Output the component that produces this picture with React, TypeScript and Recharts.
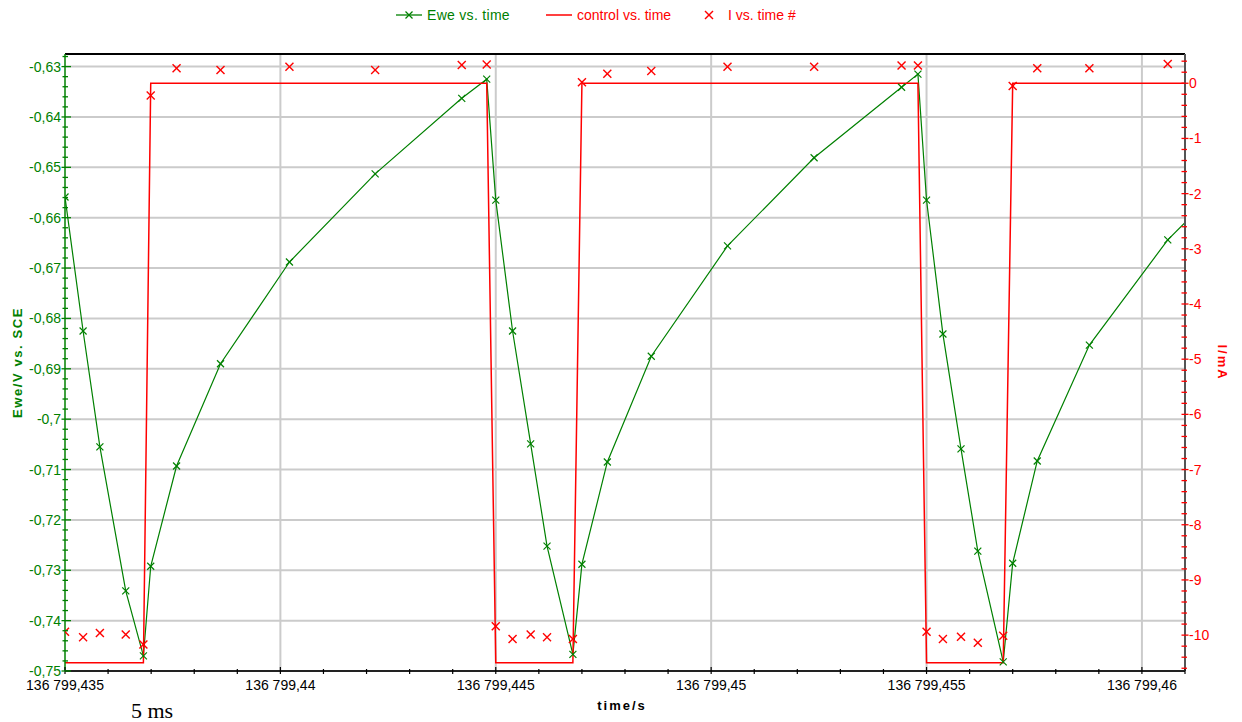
import React from 'react';
import { ComposedChart, Line, XAxis, YAxis, ReferenceLine } from 'recharts';

// time offset in ms from 136 799,435 s
const TIME_MS = [
  0, 0.42, 0.81, 1.41, 1.82, 1.99, 2.59, 3.61, 5.21, 7.2, 9.21, 9.79,
  10.0, 10.39, 10.81, 11.19, 11.79, 12.0, 12.59, 13.61, 15.38, 17.39, 19.42, 19.8,
  20.0, 20.38, 20.8, 21.19, 21.78, 22.0, 22.57, 23.78, 25.6, 27.4,
];
const EWE_V = [
  -0.6559, -0.6825, -0.7055, -0.7341, -0.747, -0.7292, -0.7093, -0.689, -0.6688, -0.6513, -0.6363, -0.6325,
  -0.6565, -0.6825, -0.7049, -0.7252, -0.7467, -0.7288, -0.7085, -0.6875, -0.6656, -0.6481, -0.6341, -0.6315,
  -0.6565, -0.6831, -0.7059, -0.7262, -0.7482, -0.7286, -0.7083, -0.6853, -0.6644, -0.649,
];
const CONTROL_MA = [
  -10.5, -10.5, -10.5, -10.5, -10.5, 0, 0, 0, 0, 0, 0, 0,
  -10.5, -10.5, -10.5, -10.5, -10.5, 0, 0, 0, 0, 0, 0, 0,
  -10.5, -10.5, -10.5, -10.5, -10.5, 0, 0, 0, 0, 0,
];
const I_MA: (number | null)[] = [
  -9.94, -10.04, -9.96, -9.99, -10.17, -0.22, 0.27, 0.24, 0.3, 0.24, 0.33, 0.34,
  -9.84, -10.07, -9.99, -10.04, -10.07, 0.02, 0.17, 0.22, 0.3, 0.3, 0.32, 0.32,
  -9.94, -10.07, -10.03, -10.14, -10.01, -0.05, 0.27, 0.27, 0.35, null,
];

const X_DOMAIN: [number, number] = [0, 26];
const X_MAJOR_TICKS = [0, 5, 10, 15, 20, 25];
const X_TICK_LABELS = ['136 799,435', '136 799,44', '136 799,445', '136 799,45', '136 799,455', '136 799,46'];

const LEFT_DOMAIN: [number, number] = [-0.75, -0.6275];
const LEFT_MAJOR_TICKS = [-0.75, -0.74, -0.73, -0.72, -0.71, -0.7, -0.69, -0.68, -0.67, -0.66, -0.65, -0.64, -0.63];
const LEFT_TICK_LABELS = ['-0,75', '-0,74', '-0,73', '-0,72', '-0,71', '-0,7', '-0,69', '-0,68', '-0,67', '-0,66', '-0,65', '-0,64', '-0,63'];

const RIGHT_DOMAIN: [number, number] = [-10.65, 0.53];
const RIGHT_MAJOR_TICKS = [-10, -9, -8, -7, -6, -5, -4, -3, -2, -1, 0];
const RIGHT_TICK_LABELS = ['-10', '-9', '-8', '-7', '-6', '-5', '-4', '-3', '-2', '-1', '0'];

const X_ALL_TICKS = Array.from({ length: 27 }, (_, i) => i);
const LEFT_ALL_TICKS = Array.from({ length: 62 }, (_, i) => Math.round((-0.75 + i * 0.002) * 10000) / 10000);
const RIGHT_ALL_TICKS = Array.from({ length: 56 }, (_, i) => Math.round((-10.6 + i * 0.2) * 10) / 10);

const GREEN = '#008000';
const RED = '#ff0000';
const GRID = '#cbcbcb';
const FONT = '"Liberation Sans", Arial, sans-serif';

const rows = TIME_MS.map((t, i) => ({ t, ewe: EWE_V[i], control: CONTROL_MA[i], cur: I_MA[i] }));

const findIdx = (arr: number[], v: number) => arr.findIndex((a) => Math.abs(a - v) < 1e-6);

const LeftTick = (props: any) => {
  const { x, y, payload } = props;
  const idx = findIdx(LEFT_MAJOR_TICKS, payload.value);
  const major = idx >= 0;
  return (
    <g>
      <line x1={x - (major ? 3.5 : 2.5)} x2={x + (major ? 6 : 3)} y1={y} y2={y} stroke={GREEN} strokeWidth={1.3} />
      {major && (
        <text x={x - 4} y={y + 5} textAnchor="end" fill={GREEN} fontSize={14} fontFamily={FONT}>
          {LEFT_TICK_LABELS[idx]}
        </text>
      )}
    </g>
  );
};

const RightTick = (props: any) => {
  const { x, y, payload } = props;
  const idx = findIdx(RIGHT_MAJOR_TICKS, payload.value);
  const major = idx >= 0;
  return (
    <g>
      <line x1={x - 3.5} x2={x + (major ? 3.5 : 2)} y1={y} y2={y} stroke={RED} strokeWidth={1.3} />
      {major && (
        <text x={x + 4} y={y + 5} textAnchor="start" fill={RED} fontSize={14} fontFamily={FONT}>
          {RIGHT_TICK_LABELS[idx]}
        </text>
      )}
    </g>
  );
};

const BottomTick = (props: any) => {
  const { x, y, payload } = props;
  const idx = findIdx(X_MAJOR_TICKS, payload.value);
  const major = idx >= 0;
  return (
    <g>
      <line x1={x} x2={x} y1={y - (major ? 4 : 2)} y2={y + 3} stroke="#000" strokeWidth={1.2} />
      {major && (
        <text x={x} y={y + 19} textAnchor="middle" fill="#000" fontSize={14} fontFamily={FONT}>
          {X_TICK_LABELS[idx]}
        </text>
      )}
    </g>
  );
};

const makeCross = (color: string, half: number, sw: number) => (props: any) => {
  const { cx, cy, value, payload, index } = props;
  if (cx == null || cy == null || value == null || payload.t > X_DOMAIN[1]) return <g key={`d${index}`} />;
  return (
    <g key={`d${index}`}>
      <line x1={cx - half} y1={cy - half} x2={cx + half} y2={cy + half} stroke={color} strokeWidth={sw} />
      <line x1={cx - half} y1={cy + half} x2={cx + half} y2={cy - half} stroke={color} strokeWidth={sw} />
    </g>
  );
};

const GreenCross = makeCross(GREEN, 3.5, 1.2);
const RedCross = makeCross(RED, 4, 1.4);

const LeftLabel = (props: any) => {
  const { viewBox } = props;
  const cx = viewBox.x + 17;
  const cy = viewBox.y + viewBox.height / 2;
  return (
    <text x={cx} y={cy} transform={`rotate(-90 ${cx} ${cy})`} textAnchor="middle" dominantBaseline="central"
      fill={GREEN} fontSize={13} fontWeight="bold" letterSpacing={1.6} fontFamily={FONT}>
      Ewe/V vs. SCE
    </text>
  );
};

const RightLabel = (props: any) => {
  const { viewBox } = props;
  const cx = viewBox.x + 37;
  const cy = viewBox.y + viewBox.height / 2;
  return (
    <text x={cx} y={cy} transform={`rotate(90 ${cx} ${cy})`} textAnchor="middle" dominantBaseline="central"
      fill={RED} fontSize={13} fontWeight="bold" letterSpacing={2} fontFamily={FONT}>
      I/mA
    </text>
  );
};

const BottomLabel = (props: any) => {
  const { viewBox } = props;
  const cx = viewBox.x + viewBox.width / 2 - 3;
  const cy = viewBox.y + 39;
  return (
    <text x={cx} y={cy} textAnchor="middle" fill="#000" fontSize={13} fontWeight="bold" letterSpacing={2} fontFamily={FONT}>
      time/s
    </text>
  );
};

export default function App() {
  return (
    <div style={{ position: 'absolute', left: 0, top: 0, width: 1242, height: 722, background: '#fff' }}>
      <ComposedChart width={1242} height={722} data={rows} margin={{ top: 54, right: 0, bottom: 0, left: 0 }}>
        <XAxis
          dataKey="t" type="number" domain={X_DOMAIN} allowDataOverflow ticks={X_ALL_TICKS} interval={0}
          height={51} tickSize={0} tickMargin={0} tickLine={false} tick={<BottomTick />}
          axisLine={{ stroke: '#222', strokeWidth: 2 }} label={<BottomLabel />}
        />
        <YAxis
          yAxisId="left" orientation="left" type="number" domain={LEFT_DOMAIN} allowDataOverflow ticks={LEFT_ALL_TICKS}
          interval={0} width={65} tickSize={0} tickMargin={0} tickLine={false} tick={<LeftTick />}
          axisLine={{ stroke: GREEN, strokeWidth: 1.5 }} label={<LeftLabel />}
        />
        <YAxis
          yAxisId="right" orientation="right" type="number" domain={RIGHT_DOMAIN} allowDataOverflow ticks={RIGHT_ALL_TICKS}
          interval={0} width={57} tickSize={0} tickMargin={0} tickLine={false} tick={<RightTick />}
          axisLine={{ stroke: '#555', strokeWidth: 2 }} label={<RightLabel />}
        />
        {X_MAJOR_TICKS.filter((v) => v > 0).map((v) => (
          <ReferenceLine key={`gx${v}`} x={v} yAxisId="left" stroke={GRID} strokeWidth={2} />
        ))}
        {LEFT_MAJOR_TICKS.filter((v, i) => i > 0).map((v) => (
          <ReferenceLine key={`gy${v}`} y={v} yAxisId="left" stroke={GRID} strokeWidth={2} />
        ))}
        <ReferenceLine y={LEFT_DOMAIN[1]} yAxisId="left" stroke="#000" strokeWidth={2} />
        <Line yAxisId="left" dataKey="ewe" stroke={GREEN} strokeWidth={1.2} dot={GreenCross} activeDot={false}
          isAnimationActive={false} type="linear" />
        <Line yAxisId="right" dataKey="control" stroke={RED} strokeWidth={1.5} dot={false} activeDot={false}
          isAnimationActive={false} type="linear" />
        <Line yAxisId="right" dataKey="cur" stroke="none" strokeWidth={0} dot={RedCross} activeDot={false}
          isAnimationActive={false} type="linear" />
      </ComposedChart>
      <svg width={1242} height={722} style={{ position: 'absolute', left: 0, top: 0, pointerEvents: 'none' }}>
        <g fontFamily={FONT} fontSize={14}>
          <line x1={396} x2={422} y1={15} y2={15} stroke={GREEN} strokeWidth={1.3} />
          <line x1={405.5} y1={11.5} x2={412.5} y2={18.5} stroke={GREEN} strokeWidth={1.2} />
          <line x1={405.5} y1={18.5} x2={412.5} y2={11.5} stroke={GREEN} strokeWidth={1.2} />
          <text x={427} y={20} fill={GREEN} letterSpacing={0.3}>Ewe vs. time</text>
          <line x1={546} x2={572} y1={15} y2={15} stroke={RED} strokeWidth={1.5} />
          <text x={577} y={20} fill={RED}>control vs. time</text>
          <line x1={705} y1={11} x2={713} y2={19} stroke={RED} strokeWidth={1.4} />
          <line x1={705} y1={19} x2={713} y2={11} stroke={RED} strokeWidth={1.4} />
          <text x={728} y={20} fill={RED}>I vs. time #</text>
        </g>
        <text x={131} y={718} fontFamily='"Liberation Serif", "Times New Roman", serif' fontSize={22} fill="#000">5 ms</text>
      </svg>
    </div>
  );
}
